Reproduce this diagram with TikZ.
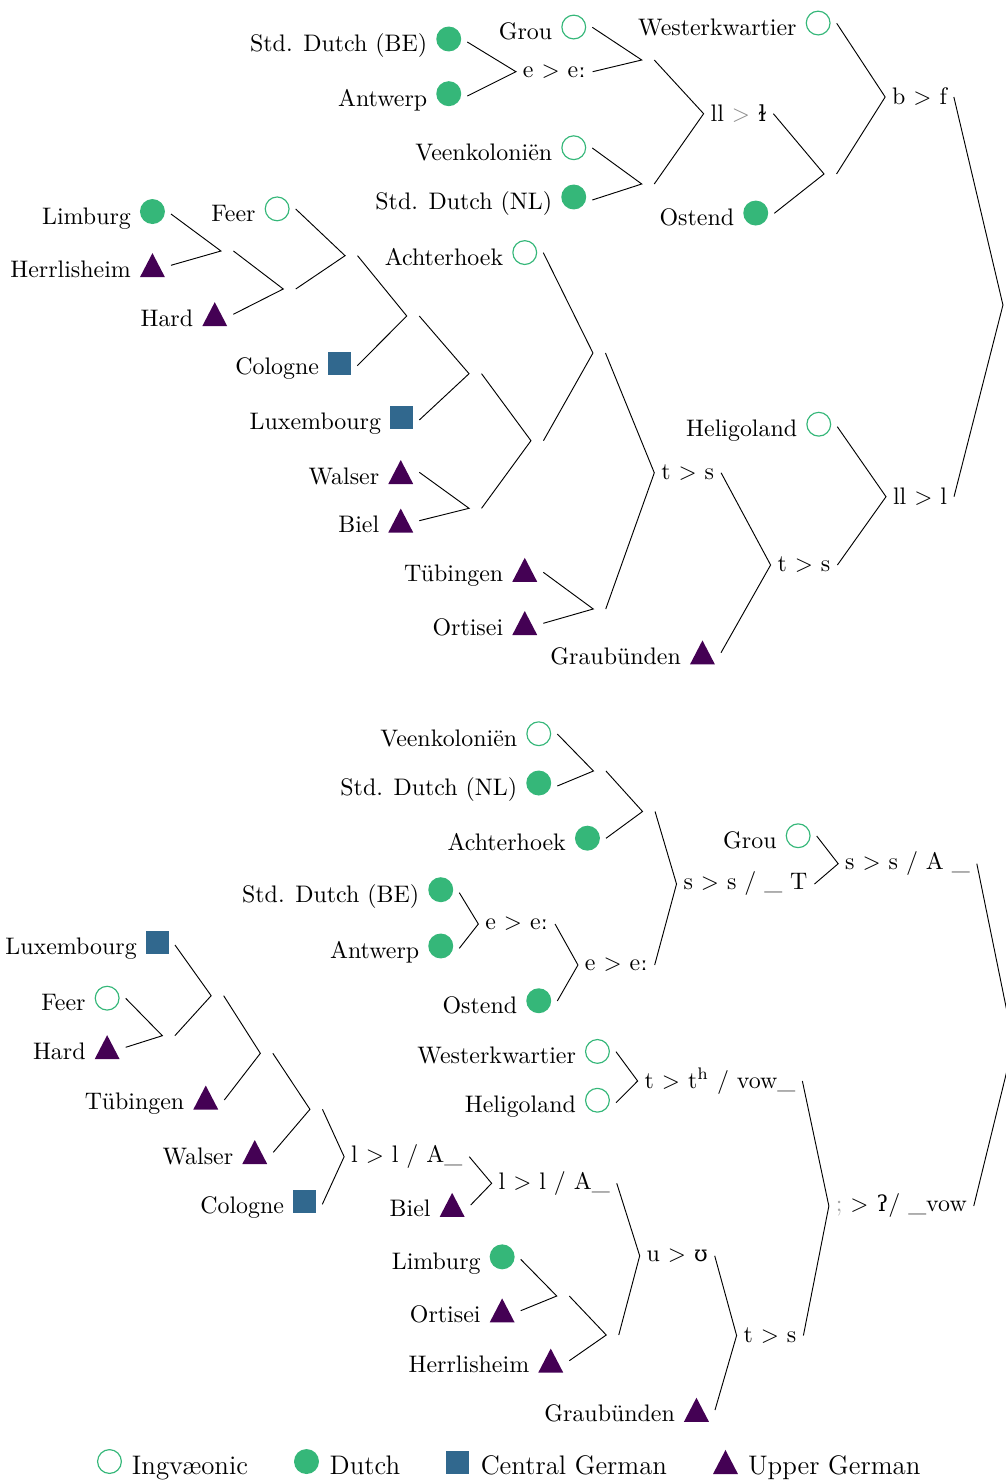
\documentclass[tikz,border=0pt]{standalone}
\usepackage{fontspec}
\newfontfamily\ipafont{DejaVu Serif}[Scale=0.92]
\definecolor{ingcol}{HTML}{35B779}
\definecolor{dutcol}{HTML}{35B779}
\definecolor{cgcol}{HTML}{31688E}
\definecolor{ugcol}{HTML}{440154}
\newcommand\myipa[1]{{\ipafont #1}}
\newcommand\mkIng{\tikz[baseline=0pt]\draw[ingcol,line width=0.5pt] (5.35pt,5.35pt) circle[radius=5.1pt];}
\newcommand\mkDut{\tikz[baseline=0pt]\fill[dutcol] (5.35pt,5.35pt) circle[radius=5.35pt];}
\newcommand\mkCG{\tikz[baseline=0pt]\fill[cgcol] (0pt,0pt) rectangle (9.9pt,9.9pt);}
\newcommand\mkUG{\tikz[baseline=0pt]\fill[ugcol] (0pt,0pt) -- (10.7pt,0pt) -- (5.35pt,10.3pt) -- cycle;}
\newcommand\gp{\hspace{3.9pt}}
\tikzset{
  leaf/.style={anchor=east, inner xsep=2.6pt, inner ysep=1pt, outer sep=0pt, font=\fontsize{10.25pt}{12.3pt}\selectfont},
  lab/.style={inner xsep=3pt, inner ysep=1pt, outer sep=0pt, font=\fontsize{10.25pt}{12.3pt}\selectfont},
  emp/.style={inner sep=0pt, outer sep=0pt, minimum width=5.36pt, minimum height=0pt},
  conn/.style={line width=0.4pt, black},
  legitem/.style={anchor=base west, inner sep=0pt, outer sep=0pt, font=\fontsize{11.5pt}{13.5pt}\selectfont}
}
\begin{document}
\begin{tikzpicture}[x=0.4286pt, y=-0.4286pt]
\path[use as bounding box] (0,0) rectangle (1006,1481);
\clip (0,0) rectangle (1006,1481);

% ================= TOP TREE =================
% leaves
\node[leaf] (tGrou) at (592.3,27.3) {Grou\gp\mkIng};
\node[leaf] (tSdbe) at (467.3,42) {Std. Dutch (BE)\gp\mkDut};
\node[leaf] (tAnt) at (467.3,96) {Antwerp\gp\mkDut};
\node[leaf] (tVeen) at (592.3,148) {Veenkoloniën\gp\mkIng};
\node[leaf] (tSdnl) at (592.3,200) {Std. Dutch (NL)\gp\mkDut};
\node[leaf] (tWest) at (836.7,23.3) {Westerkwartier\gp\mkIng};
\node[leaf] (tOst) at (774.3,213.3) {Ostend\gp\mkDut};
\node[leaf] (tHeli) at (837.3,426.7) {Heligoland\gp\mkIng};
\node[leaf] (tGrau) at (721,652.7) {Graubünden\gp\mkUG};
\node[leaf] (tLim) at (171,214) {Limburg\gp\mkDut};
\node[leaf] (tHer) at (171,265.3) {Herrlisheim\gp\mkUG};
\node[leaf] (tHard) at (233.3,314.3) {Hard\gp\mkUG};
\node[leaf] (tFeer) at (295.7,209) {Feer\gp\mkIng};
\node[leaf] (tCol) at (357.3,365.7) {Cologne\gp\mkCG};
\node[leaf] (tLux) at (419.3,420) {Luxembourg\gp\mkCG};
\node[leaf] (tWal) at (419.3,472.3) {Walser\gp\mkUG};
\node[leaf] (tBiel) at (419.3,520.7) {Biel\gp\mkUG};
\node[leaf] (tAch) at (543.3,252.7) {Achterhoek\gp\mkIng};
\node[leaf] (tTub) at (543.3,572.3) {Tübingen\gp\mkUG};
\node[leaf] (tOrt) at (543.3,623.3) {Ortisei\gp\mkUG};

% labelled inner nodes
\node[lab] (tEE) at (554.3,71.7) {e $>$ e\myipa{ː}};
\node[lab] (tLLT) at (738.5,113.7) {ll {\color{black!45}$>$} \myipa{ɫ}};
\node[lab] (tBF) at (919.5,97) {b $>$ f};
\node[lab] (tTS1) at (687.7,472.8) {t $>$ s};
\node[lab] (tTS2) at (804,565) {t $>$ s};
\node[lab] (tLLL) at (920,496.7) {ll $>$ l};

% empty inner nodes
\node[emp] (tE1) at (648,60) {};
\node[emp] (tE2) at (648,184) {};
\node[emp] (tE3) at (830.3,174) {};
\node[emp] (tE4) at (227.2,251) {};
\node[emp] (tE5) at (289.5,289) {};
\node[emp] (tE6) at (351.3,255.7) {};
\node[emp] (tE7) at (413,316) {};
\node[emp] (tE8) at (475.3,373.7) {};
\node[emp] (tE9) at (475.3,508.3) {};
\node[emp] (tE10) at (537.2,440.7) {};
\node[emp] (tE11) at (599.2,353) {};
\node[emp] (tE12) at (599.5,609) {};
\node[emp] (tRoot) at (1009.2,305) {};

% connectors
\draw[conn] (tSdbe.east) -- (tEE.west) -- (tAnt.east);
\draw[conn] (tGrou.east) -- (tE1.west) -- (tEE.east);
\draw[conn] (tVeen.east) -- (tE2.west) -- (tSdnl.east);
\draw[conn] (tE1.east) -- (tLLT.west) -- (tE2.east);
\draw[conn] (tLLT.east) -- (tE3.west) -- (tOst.east);
\draw[conn] (tWest.east) -- (tBF.west) -- (tE3.east);
\draw[conn] (tBF.east) -- (tRoot.west) -- (tLLL.east);
\draw[conn] (tHeli.east) -- (tLLL.west) -- (tTS2.east);
\draw[conn] (tTS1.east) -- (tTS2.west) -- (tGrau.east);
\draw[conn] (tE11.east) -- (tTS1.west) -- (tE12.east);
\draw[conn] (tAch.east) -- (tE11.west) -- (tE10.east);
\draw[conn] (tE8.east) -- (tE10.west) -- (tE9.east);
\draw[conn] (tE7.east) -- (tE8.west) -- (tLux.east);
\draw[conn] (tE6.east) -- (tE7.west) -- (tCol.east);
\draw[conn] (tFeer.east) -- (tE6.west) -- (tE5.east);
\draw[conn] (tE4.east) -- (tE5.west) -- (tHard.east);
\draw[conn] (tLim.east) -- (tE4.west) -- (tHer.east);
\draw[conn] (tWal.east) -- (tE9.west) -- (tBiel.east);
\draw[conn] (tTub.east) -- (tE12.west) -- (tOrt.east);

% ================= BOTTOM TREE =================
\node[leaf] (bVeen) at (557.3,734) {Veenkoloniën\gp\mkIng};
\node[leaf] (bSdnl) at (557.3,786) {Std. Dutch (NL)\gp\mkDut};
\node[leaf] (bAch) at (606,838.3) {Achterhoek\gp\mkDut};
\node[leaf] (bSdbe) at (459.3,892.7) {Std. Dutch (BE)\gp\mkDut};
\node[leaf] (bAnt) at (459.3,948.3) {Antwerp\gp\mkDut};
\node[leaf] (bOst) at (557.3,1001) {Ostend\gp\mkDut};
\node[leaf] (bGrou) at (816.7,836) {Grou\gp\mkIng};
\node[leaf] (bWest) at (616,1051.7) {Westerkwartier\gp\mkIng};
\node[leaf] (bHeli) at (616,1102.7) {Heligoland\gp\mkIng};
\node[leaf] (bBiel) at (470.7,1205) {Biel\gp\mkUG};
\node[leaf] (bLim) at (520.7,1259.3) {Limburg\gp\mkDut};
\node[leaf] (bOrt) at (520.7,1310.7) {Ortisei\gp\mkUG};
\node[leaf] (bHer) at (569.3,1360.7) {Herrlisheim\gp\mkUG};
\node[leaf] (bGrau) at (715,1410) {Graubünden\gp\mkUG};
\node[leaf] (bLux) at (175,945) {Luxembourg\gp\mkCG};
\node[leaf] (bFeer) at (125.7,998.3) {Feer\gp\mkIng};
\node[leaf] (bHard) at (125.7,1047.3) {Hard\gp\mkUG};
\node[leaf] (bTub) at (224.3,1100) {Tübingen\gp\mkUG};
\node[leaf] (bWal) at (273.3,1152.3) {Walser\gp\mkUG};
\node[leaf] (bCol) at (322.3,1204.3) {Cologne\gp\mkCG};

\node[lab] (bEE2) at (516.7,924) {e $>$ e\myipa{ː}};
\node[lab] (bEE3) at (616.3,965) {e $>$ e\myipa{ː}};
\node[lab] (bSST) at (745.5,884) {s $>$ s / \_ T};
\node[lab] (bSSA) at (907.5,863.7) {s $>$ s / A \_};
\node[lab] (bTTH) at (720,1081) {t $>$ t\textsuperscript{h} / vow\_};
\node[lab] (bGL) at (901.3,1206) {{\color{black!35};} $>$ \myipa{ʔ}/ \_vow};
\node[lab] (bLLA1) at (406.7,1156.7) {l $>$ l / A\_};
\node[lab] (bLLA2) at (554.2,1183.3) {l $>$ l / A\_};
\node[lab] (bUU) at (677.2,1255.8) {u $>$ \myipa{ʊ}};
\node[lab] (bTS3) at (770,1335.5) {t $>$ s};

\node[emp] (bF1) at (599.7,771) {};
\node[emp] (bF2) at (648.8,811.5) {};
\node[emp] (bG1) at (168.6,1035.7) {};
\node[emp] (bG2) at (217.4,995.7) {};
\node[emp] (bG3) at (266.6,1053.3) {};
\node[emp] (bG4) at (316.2,1109.3) {};
\node[emp] (bG5) at (563,1296) {};
\node[emp] (bG6) at (612.5,1335) {};
\node[emp] (bRoot) at (1019.8,1043.8) {};

\draw[conn] (bVeen.east) -- (bF1.west) -- (bSdnl.east);
\draw[conn] (bF1.east) -- (bF2.west) -- (bAch.east);
\draw[conn] (bSdbe.east) -- (bEE2.west) -- (bAnt.east);
\draw[conn] (bEE2.east) -- (bEE3.west) -- (bOst.east);
\draw[conn] (bF2.east) -- (bSST.west) -- (bEE3.east);
\draw[conn] (bGrou.east) -- (bSSA.west) -- (bSST.east);
\draw[conn] (bSSA.east) -- (bRoot.west) -- (bGL.east);
\draw[conn] (bWest.east) -- (bTTH.west) -- (bHeli.east);
\draw[conn] (bTTH.east) -- (bGL.west) -- (bTS3.east);
\draw[conn] (bUU.east) -- (bTS3.west) -- (bGrau.east);
\draw[conn] (bLLA2.east) -- (bUU.west) -- (bG6.east);
\draw[conn] (bLLA1.east) -- (bLLA2.west) -- (bBiel.east);
\draw[conn] (bG4.east) -- (bLLA1.west) -- (bCol.east);
\draw[conn] (bG3.east) -- (bG4.west) -- (bWal.east);
\draw[conn] (bG2.east) -- (bG3.west) -- (bTub.east);
\draw[conn] (bLux.east) -- (bG2.west) -- (bG1.east);
\draw[conn] (bFeer.east) -- (bG1.west) -- (bHard.east);
\draw[conn] (bLim.east) -- (bG5.west) -- (bOrt.east);
\draw[conn] (bG5.east) -- (bG6.west) -- (bHer.east);

% ================= LEGEND =================
\node[legitem] (legI) at (97,1474) {\mkIng\hspace{4.3pt}Ingvæonic};
\node[legitem] (legD) at (294,1474) {\mkDut\hspace{4.6pt}Dutch};
\node[legitem] (legC) at (446,1474) {\mkCG\hspace{5pt}Central German};
\node[legitem] (legU) at (713,1474) {\mkUG\hspace{4.3pt}Upper German};
\end{tikzpicture}
\end{document}
